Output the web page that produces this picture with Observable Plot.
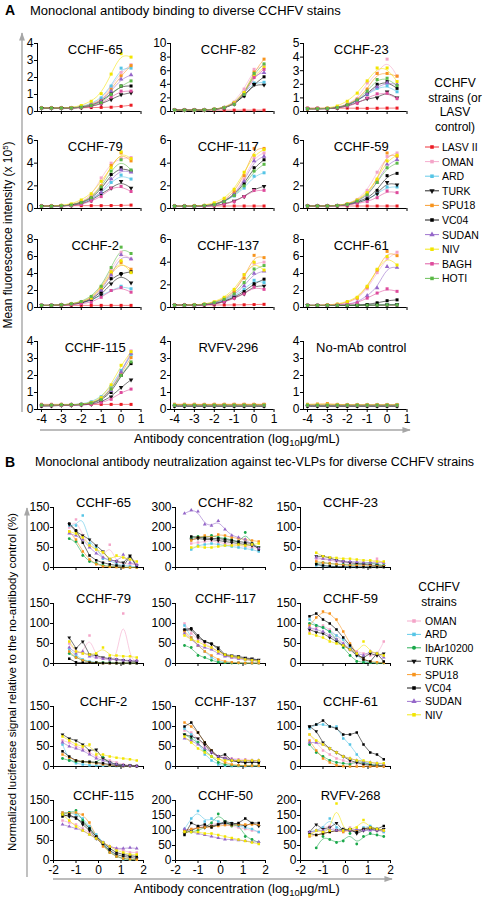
<!DOCTYPE html>
<html>
<head>
<meta charset="utf-8">
<script src="https://cdn.jsdelivr.net/npm/d3@7"></script>
<script src="https://cdn.jsdelivr.net/npm/@observablehq/plot@0.6"></script>
<style>
  body { margin: 0; background: #fff; }
  #fig { position: relative; width: 483px; height: 900px; overflow: hidden; background: #fff;
         font-family: Arial, "Liberation Sans", Helvetica, sans-serif; color: #000; }
  .t { position: absolute; white-space: nowrap; line-height: 1; }
  .c { transform: translate(-50%, -50%); }
  .l { transform: translate(0, -50%); }
  .r90 { transform: translate(-50%, -50%) rotate(-90deg); }
</style>
</head>
<body>
<div id="fig"></div>
<script>
// ---------- Panel A: binding (log10 µg/mL, 10 half-log steps) ----------
const doseA = [-4, -3.5, -3, -2.5, -2, -1.5, -1, -0.5, 0, 0.5];
const strainsA = ["LASV II", "OMAN", "ARD", "TURK", "SPU18", "VC04", "SUDAN", "NIV", "BAGH", "HOTI"];
const titlesA = ["CCHF-65", "CCHF-82", "CCHF-23", "CCHF-79", "CCHF-117", "CCHF-59",
                 "CCHF-2", "CCHF-137", "CCHF-61", "CCHF-115", "RVFV-296", "No-mAb control"];
const yMaxA = [4, 10, 5, 6, 6, 6, 8, 6, 8, 4, 4, 4];
const yStepA = [1, 2, 1, 2, 2, 2, 2, 2, 2, 1, 1, 1];

// rows follow strainsA order; MFI x 10^5
const a65 = [
  [0.22,0.22,0.21,0.21,0.22,0.23,0.24,0.25,0.30,0.37],
  [0.20,0.20,0.20,0.22,0.28,0.42,0.72,1.45,2.30,2.75],
  [0.20,0.20,0.20,0.22,0.30,0.45,0.80,1.50,2.55,2.55],
  [0.18,0.18,0.19,0.20,0.23,0.30,0.45,0.70,1.00,1.10],
  [0.20,0.20,0.20,0.21,0.27,0.40,0.65,1.30,2.10,2.70],
  [0.20,0.20,0.20,0.20,0.25,0.35,0.60,1.05,1.50,1.50],
  [0.20,0.20,0.20,0.20,0.26,0.38,0.62,1.20,1.90,2.15],
  [0.21,0.21,0.21,0.23,0.35,0.60,1.05,2.20,3.40,3.20],
  [0.20,0.20,0.20,0.20,0.23,0.30,0.45,0.85,1.20,1.20],
  [0.20,0.20,0.20,0.20,0.25,0.35,0.52,1.00,1.50,1.80]];
const a82 = [
  [0.20,0.20,0.20,0.20,0.20,0.20,0.20,0.20,0.20,0.20],
  [0.20,0.20,0.20,0.22,0.35,0.60,1.40,3.30,6.20,6.80],
  [0.20,0.20,0.20,0.22,0.33,0.55,1.20,2.80,4.20,4.30],
  [0.20,0.20,0.20,0.20,0.30,0.50,1.10,2.30,4.00,3.90],
  [0.20,0.20,0.20,0.22,0.33,0.55,1.20,2.70,5.80,7.70],
  [0.20,0.20,0.20,0.20,0.30,0.50,1.10,2.30,4.00,5.10],
  [0.20,0.20,0.20,0.22,0.32,0.55,1.20,2.60,5.40,5.70],
  [0.20,0.20,0.20,0.22,0.34,0.60,1.30,2.80,5.30,6.50],
  [0.20,0.20,0.20,0.20,0.30,0.50,1.10,2.50,5.00,6.20],
  [0.20,0.20,0.20,0.22,0.32,0.55,1.05,2.50,5.60,7.00]];
const a23 = [
  [0.25,0.25,0.24,0.24,0.25,0.24,0.23,0.24,0.25,0.25],
  [0.20,0.20,0.22,0.30,0.55,0.95,2.10,2.80,3.85,2.60],
  [0.20,0.20,0.21,0.28,0.45,0.80,1.25,1.70,1.90,1.45],
  [0.20,0.20,0.20,0.25,0.40,0.65,0.95,1.00,1.45,1.00],
  [0.20,0.20,0.21,0.30,0.50,0.90,1.65,2.80,2.80,2.60],
  [0.20,0.20,0.20,0.27,0.45,0.80,1.30,2.00,2.20,1.70],
  [0.20,0.20,0.21,0.28,0.45,0.80,1.30,1.80,2.10,2.00],
  [0.20,0.22,0.25,0.40,0.75,1.35,2.25,3.20,3.20,2.20],
  [0.20,0.20,0.20,0.25,0.38,0.60,1.00,1.30,1.35,0.95],
  [0.20,0.20,0.21,0.28,0.48,0.85,1.50,2.35,2.45,1.90]];
const a79 = [
  [0.25,0.25,0.25,0.25,0.25,0.25,0.25,0.26,0.27,0.30],
  [0.20,0.22,0.25,0.35,0.60,1.10,2.70,4.00,4.40,4.50],
  [0.20,0.20,0.22,0.30,0.45,0.85,1.30,2.30,2.95,2.60],
  [0.20,0.20,0.22,0.28,0.40,0.70,1.30,1.80,2.40,1.80],
  [0.20,0.20,0.24,0.32,0.55,1.00,2.00,3.80,4.90,4.20],
  [0.20,0.20,0.22,0.30,0.50,0.90,1.70,3.00,3.60,3.30],
  [0.20,0.20,0.22,0.30,0.48,0.85,1.40,2.60,3.40,3.20],
  [0.20,0.22,0.28,0.40,0.75,1.30,2.40,3.60,5.00,4.40],
  [0.20,0.20,0.20,0.25,0.35,0.65,1.05,1.80,1.95,1.50],
  [0.20,0.20,0.23,0.30,0.52,0.95,1.90,3.30,4.30,3.40]];
const a117 = [
  [0.22,0.22,0.22,0.22,0.22,0.22,0.22,0.22,0.22,0.22],
  [0.20,0.20,0.20,0.25,0.35,0.65,1.25,2.60,4.50,4.90],
  [0.20,0.20,0.20,0.23,0.32,0.60,1.10,1.80,2.85,3.15],
  [0.18,0.18,0.18,0.20,0.25,0.40,0.65,1.05,1.70,1.95],
  [0.20,0.20,0.20,0.25,0.38,0.70,1.50,2.90,5.30,5.30],
  [0.20,0.20,0.20,0.24,0.34,0.62,1.20,2.20,3.60,4.30],
  [0.20,0.20,0.20,0.24,0.34,0.64,1.25,2.40,4.20,4.60],
  [0.20,0.20,0.22,0.28,0.50,0.90,1.70,3.20,4.70,5.20],
  [0.18,0.18,0.18,0.20,0.25,0.38,0.60,1.05,1.60,1.60],
  [0.20,0.20,0.20,0.24,0.33,0.60,1.15,2.00,3.30,3.90]];
const a59 = [
  [0.22,0.22,0.22,0.22,0.22,0.22,0.22,0.22,0.22,0.22],
  [0.22,0.22,0.23,0.27,0.40,0.80,1.60,3.20,4.60,4.90],
  [0.22,0.22,0.22,0.24,0.32,0.55,0.80,1.30,1.90,1.90],
  [0.22,0.22,0.22,0.24,0.30,0.50,0.75,1.30,2.30,2.10],
  [0.22,0.22,0.23,0.26,0.38,0.70,1.30,2.50,4.90,4.60],
  [0.22,0.22,0.22,0.25,0.34,0.60,0.90,1.60,2.90,3.10],
  [0.22,0.22,0.22,0.25,0.36,0.65,1.10,2.30,3.90,4.30],
  [0.22,0.22,0.23,0.27,0.40,0.75,1.40,2.60,4.20,4.70],
  [0.22,0.22,0.22,0.23,0.30,0.45,0.60,0.95,1.55,1.40],
  [0.22,0.22,0.22,0.25,0.36,0.65,1.20,2.30,3.60,4.00]];
const a2 = [
  [0.25,0.25,0.25,0.25,0.25,0.25,0.25,0.25,0.25,0.25],
  [0.25,0.25,0.30,0.40,0.65,1.10,2.40,4.40,6.50,5.70],
  [0.25,0.25,0.28,0.35,0.50,0.90,1.40,2.00,2.50,2.20],
  [0.25,0.25,0.28,0.35,0.50,0.85,1.50,2.80,3.90,2.90],
  [0.25,0.25,0.30,0.40,0.60,1.05,2.20,4.00,5.30,4.50],
  [0.25,0.25,0.30,0.38,0.55,0.95,1.80,3.40,4.00,4.20],
  [0.25,0.25,0.30,0.40,0.60,1.00,2.00,3.80,6.20,5.70],
  [0.25,0.25,0.30,0.42,0.65,1.10,2.40,4.20,5.50,4.10],
  [0.25,0.25,0.27,0.32,0.45,0.60,1.20,2.00,2.35,1.80],
  [0.25,0.25,0.30,0.42,0.70,1.30,2.50,4.70,7.10,6.35]];
const a137 = [
  [0.22,0.22,0.22,0.22,0.22,0.22,0.23,0.24,0.26,0.28],
  [0.20,0.20,0.22,0.28,0.42,0.75,1.30,2.90,3.90,4.00],
  [0.20,0.20,0.21,0.25,0.35,0.60,1.00,1.60,2.40,2.20],
  [0.20,0.20,0.20,0.23,0.30,0.50,0.85,1.20,1.90,1.90],
  [0.20,0.20,0.22,0.28,0.45,0.80,1.40,2.60,4.60,4.40],
  [0.20,0.20,0.20,0.24,0.32,0.55,0.90,1.40,2.10,2.50],
  [0.20,0.20,0.21,0.26,0.38,0.65,1.10,1.90,3.00,3.20],
  [0.20,0.20,0.23,0.30,0.50,0.90,1.60,2.90,4.00,3.30],
  [0.20,0.20,0.20,0.23,0.30,0.48,0.80,1.20,1.80,1.60],
  [0.20,0.20,0.22,0.27,0.42,0.72,1.20,2.20,3.40,3.70]];
const a61 = [
  [0.25,0.25,0.25,0.25,0.25,0.25,0.25,0.25,0.25,0.25],
  [0.25,0.25,0.28,0.35,0.55,1.00,2.20,4.10,5.80,6.50],
  [0.25,0.25,0.25,0.25,0.25,0.26,0.27,0.28,0.30,0.30],
  [0.25,0.25,0.25,0.25,0.26,0.27,0.28,0.30,0.32,0.35],
  [0.25,0.25,0.28,0.37,0.60,1.10,2.40,4.40,6.60,6.10],
  [0.25,0.25,0.25,0.25,0.26,0.28,0.35,0.55,0.80,0.90],
  [0.25,0.25,0.26,0.30,0.40,0.60,1.40,2.30,4.80,4.70],
  [0.25,0.25,0.30,0.40,0.70,1.20,2.50,4.50,6.00,5.00],
  [0.25,0.25,0.26,0.30,0.35,0.55,1.10,1.70,2.20,1.90],
  [0.25,0.25,0.25,0.25,0.25,0.26,0.27,0.28,0.30,0.30]];
const a115 = [
  [0.30,0.30,0.30,0.30,0.30,0.30,0.30,0.30,0.30,0.30],
  [0.25,0.25,0.27,0.28,0.30,0.38,0.60,1.30,2.20,3.45],
  [0.25,0.25,0.27,0.28,0.32,0.45,0.75,1.35,2.30,3.20],
  [0.22,0.22,0.24,0.25,0.27,0.30,0.45,0.75,1.30,1.75],
  [0.25,0.25,0.30,0.28,0.30,0.38,0.60,1.20,2.10,3.05],
  [0.20,0.22,0.24,0.25,0.28,0.35,0.55,1.00,2.00,2.70],
  [0.25,0.25,0.27,0.28,0.30,0.38,0.58,1.10,2.20,3.30],
  [0.25,0.25,0.27,0.28,0.30,0.40,0.70,1.45,2.60,3.40],
  [0.22,0.22,0.24,0.25,0.27,0.30,0.40,0.60,1.00,1.20],
  [0.25,0.25,0.27,0.28,0.30,0.38,0.58,1.20,2.00,2.80]];
const a296 = [
  [0.30,0.30,0.30,0.30,0.30,0.30,0.30,0.30,0.30,0.30],
  [0.27,0.27,0.27,0.27,0.27,0.27,0.27,0.27,0.27,0.27],
  [0.25,0.25,0.25,0.25,0.25,0.25,0.25,0.25,0.25,0.25],
  [0.20,0.20,0.20,0.20,0.20,0.20,0.20,0.20,0.20,0.20],
  [0.30,0.30,0.30,0.29,0.30,0.30,0.30,0.30,0.30,0.30],
  [0.20,0.20,0.20,0.20,0.20,0.20,0.20,0.20,0.20,0.20],
  [0.25,0.25,0.25,0.25,0.25,0.25,0.25,0.25,0.25,0.25],
  [0.28,0.28,0.28,0.28,0.28,0.28,0.28,0.28,0.28,0.28],
  [0.25,0.25,0.25,0.25,0.25,0.25,0.25,0.25,0.25,0.25],
  [0.25,0.25,0.25,0.25,0.25,0.25,0.25,0.25,0.25,0.25]];
const aNoMab = [
  [0.25,0.25,0.25,0.25,0.25,0.25,0.25,0.25,0.25,0.25],
  [0.26,0.26,0.26,0.26,0.26,0.26,0.26,0.26,0.26,0.26],
  [0.25,0.25,0.25,0.25,0.25,0.25,0.25,0.25,0.25,0.25],
  [0.20,0.20,0.20,0.20,0.20,0.20,0.20,0.20,0.20,0.20],
  [0.30,0.32,0.35,0.30,0.28,0.27,0.27,0.27,0.27,0.27],
  [0.20,0.20,0.20,0.20,0.20,0.20,0.20,0.20,0.20,0.20],
  [0.25,0.25,0.25,0.25,0.25,0.25,0.25,0.25,0.25,0.25],
  [0.30,0.30,0.30,0.29,0.28,0.28,0.28,0.28,0.28,0.28],
  [0.25,0.25,0.25,0.25,0.25,0.25,0.25,0.25,0.25,0.25],
  [0.25,0.25,0.25,0.25,0.25,0.25,0.25,0.25,0.25,0.25]];
const seriesA = [a65, a82, a23, a79, a117, a59, a2, a137, a61, a115, a296, aNoMab];

// ---------- Panel B: neutralization (% of no-antibody control, 2-fold steps) ----------
const doseB = [-1.6, -1.3, -1.0, -0.7, -0.4, -0.1, 0.2, 0.5, 0.8, 1.1, 1.4, 1.7];
const strainsB = ["OMAN", "ARD", "IbAr10200", "TURK", "SPU18", "VC04", "SUDAN", "NIV"];
const titlesB = ["CCHF-65", "CCHF-82", "CCHF-23", "CCHF-79", "CCHF-117", "CCHF-59",
                 "CCHF-2", "CCHF-137", "CCHF-61", "CCHF-115", "CCHF-50", "RVFV-268"];
const yMaxB = [150, 300, 150, 150, 150, 150, 150, 150, 150, 150, 200, 200];
const yStepB = [50, 100, 50, 50, 50, 50, 50, 50, 50, 50, 50, 50];

// rows follow strainsB order
const b65 = [
  [null,100,120,80,55,45,25,57,12,10,8,8],
  [null,105,105,130,60,50,22,18,8,5,3,2],
  [null,72,65,30,15,10,5,3,2,1,0,0],
  [null,108,90,80,70,55,40,20,15,12,30,5],
  [null,90,70,40,20,8,3,2,1,0,0,0],
  [null,110,93,62,30,18,12,8,5,3,28,2],
  [null,85,80,70,50,35,25,18,15,32,12,6],
  [null,90,85,75,55,45,38,20,30,25,20,15]];
const b82 = [
  [null,120,125,130,135,125,120,115,110,105,100,95],
  [null,90,110,115,120,115,110,105,100,95,90,80],
  [null,150,155,150,160,150,145,140,120,175,120,100],
  [null,140,145,140,140,135,130,125,120,115,110,100],
  [null,135,150,160,150,165,160,150,145,140,135,130],
  [null,155,150,148,145,145,140,135,130,125,120,90],
  [270,287,280,216,209,233,190,160,150,140,115,95],
  [null,100,105,100,100,105,110,110,115,110,115,120]];
const b23 = [
  [null,20,22,18,15,12,10,8,8,8,22,10],
  [null,5,4,3,3,2,2,2,2,2,2,2],
  [null,10,12,10,8,8,6,8,10,12,8,5],
  [null,28,28,24,18,15,12,10,8,6,5,3],
  [null,15,12,10,8,6,5,5,4,4,3,3],
  [null,8,5,3,2,2,1,1,1,1,1,1],
  [null,25,22,20,18,15,15,14,13,12,12,12],
  [null,37,28,25,24,22,22,20,18,18,15,15]];
const b79 = [
  [null,50,30,25,70,15,12,10,10,125,8,8],
  [null,35,20,10,5,3,2,2,1,1,1,1],
  [null,25,15,8,3,2,2,2,1,1,1,1],
  [null,65,38,55,22,20,15,12,10,8,6,5],
  [null,30,15,8,3,2,1,1,1,1,1,1],
  [null,12,3,2,2,2,1,1,1,1,1,1],
  [null,40,25,30,18,15,12,10,10,8,8,7],
  [null,55,30,25,22,25,40,20,20,18,18,15]];
const b117 = [
  [100,75,60,50,40,30,20,15,12,10,8,6],
  [95,65,45,30,15,5,3,2,2,1,1,1],
  [45,40,20,15,8,3,2,1,1,1,1,1],
  [82,85,65,55,48,40,22,20,18,14,12,9],
  [80,65,45,30,20,10,5,3,2,1,1,1],
  [85,88,70,55,50,35,20,18,15,12,10,8],
  [75,60,45,40,35,25,18,15,12,10,8,6],
  [70,60,55,45,40,30,22,18,15,10,8,6]];
const b59 = [
  [80,90,95,85,70,50,35,30,25,20,20,55],
  [110,95,90,80,70,60,40,20,5,2,2,2],
  [100,95,90,80,60,40,20,5,3,2,1,1],
  [85,78,75,65,55,45,35,20,15,25,20,25],
  [95,115,130,125,110,80,50,25,10,5,3,2],
  [118,125,110,100,85,65,45,25,10,5,25,5],
  [90,85,80,70,60,50,35,25,20,30,25,15],
  [75,70,65,55,50,45,35,25,55,30,25,20]];
const b2 = [
  [65,60,50,45,35,25,20,15,10,5,3,2],
  [55,15,8,5,3,3,2,2,1,1,1,1],
  [20,15,12,12,10,10,23,10,5,3,2,1],
  [80,70,65,55,40,42,20,10,5,3,2,1],
  [30,22,15,12,10,8,5,3,2,1,1,1],
  [38,25,15,12,12,10,8,5,3,2,2,1],
  [60,50,45,40,30,20,15,10,5,3,2,1],
  [75,65,55,50,55,30,30,25,22,20,18,15]];
const b137 = [
  [90,85,70,50,35,25,22,20,18,18,15,15],
  [95,80,60,30,15,5,2,1,1,1,1,1],
  [80,70,60,40,25,10,5,3,2,2,2,2],
  [80,75,70,55,35,25,20,15,12,10,10,10],
  [110,100,85,60,40,20,10,5,3,2,2,2],
  [100,110,85,60,40,25,30,15,12,10,12,10],
  [70,65,55,45,35,25,20,18,15,15,15,15],
  [75,60,45,35,25,18,15,15,15,15,15,15]];
const b61 = [
  [80,60,40,30,20,15,10,8,5,5,3,2],
  [95,105,105,100,100,70,55,30,10,5,3,2],
  [55,35,25,15,10,8,5,12,10,5,3,2],
  [100,88,60,45,35,25,15,10,5,3,2,1],
  [65,40,20,10,3,1,0,0,0,0,0,0],
  [100,105,115,100,95,80,80,85,55,35,30,18],
  [60,60,55,45,35,25,20,15,12,10,8,6],
  [80,65,55,45,35,25,20,15,15,10,8,8]];
const b115 = [
  [100,95,90,80,70,55,45,35,30,25,20,20],
  [120,120,115,105,85,65,45,25,10,3,2,2],
  [115,120,125,100,80,60,40,20,10,5,3,2],
  [115,110,108,90,75,55,40,25,15,10,8,5],
  [120,118,120,115,95,60,35,20,10,5,3,2],
  [110,115,105,95,80,60,45,30,20,15,12,10],
  [90,85,80,75,65,55,45,35,30,30,32,30],
  [115,100,85,75,65,55,45,35,25,20,15,15]];
const b50 = [
  [100,105,110,115,120,125,120,115,110,105,100,95],
  [105,140,165,130,140,130,120,125,115,110,105,95],
  [100,95,100,110,125,155,130,115,120,80,70,60],
  [90,100,110,110,115,120,130,125,120,115,125,115],
  [100,105,108,110,112,115,118,118,120,120,120,120],
  [85,125,115,120,110,120,125,120,125,140,125,125],
  [105,95,90,85,80,75,70,70,68,65,62,62],
  [95,95,95,90,90,85,80,75,70,65,60,55]];
const b268 = [
  [90,100,110,115,100,95,110,100,105,110,100,95],
  [95,100,110,140,110,100,105,95,110,115,105,95],
  [null,42,80,70,60,65,90,55,80,90,85,80],
  [95,120,105,110,125,100,105,90,100,105,100,105],
  [80,85,90,95,100,95,100,100,105,110,105,100],
  [90,85,90,95,100,105,100,95,105,110,105,115],
  [95,100,100,105,100,100,100,105,100,100,100,100],
  [85,100,95,100,190,100,105,110,135,110,105,100]];
const seriesB = [b65, b82, b23, b79, b117, b59, b2, b137, b61, b115, b50, b268];

// ---------- styling ----------
const FONT = "Arial, 'Liberation Sans', Helvetica, sans-serif";
const triangleDown = {
  draw(context, size) {
    const y = -Math.sqrt(size / (Math.sqrt(3) * 3));
    context.moveTo(0, -y * 2);
    context.lineTo(-Math.sqrt(3) * y, y);
    context.lineTo(Math.sqrt(3) * y, y);
    context.closePath();
  }
};
const sq = d3.symbolSquare, tri = d3.symbolTriangle, circ = d3.symbolCircle;
const paletteA = ["#ec1c24", "#f4a4c8", "#56c5e6", "#111111", "#f7941d", "#000000",
                  "#9567c9", "#f2e500", "#de4b9c", "#5bb947"];
const shapesA = [sq, sq, sq, triangleDown, sq, sq, tri, sq, sq, sq];
const paletteB = ["#f4a4c8", "#56c5e6", "#1aa84a", "#111111", "#f7941d", "#000000", "#9567c9", "#f2e500"];
const shapesB = [sq, sq, circ, triangleDown, sq, sq, tri, sq];

const fig = document.getElementById("fig");

function addText(html, x, y, cls, size, extra = "") {
  const d = document.createElement("div");
  d.className = "t " + cls;
  d.style.left = x + "px";
  d.style.top = y + "px";
  d.style.fontSize = size + "px";
  if (extra) d.style.cssText += extra;
  d.innerHTML = html;
  fig.appendChild(d);
  return d;
}

function drawPanel(cfg) {
  const {ax, ay, aw, ah, xDomain, xTicks, yMax, yStep, rows, xs, strains, colors, shapes,
         showX, title, tdx, tdy, curves, dotR} = cfg;
  const mL = 36, mR = 10, mT = 24, mB = 24;
  const data = [];
  rows.forEach((vals, s) => vals.forEach((v, i) => {
    if (v !== null) data.push({x: xs[i], y: v, k: s});
  }));
  const marks = [];
  strains.forEach((name, s) => {
    marks.push(Plot.line(data.filter(p => p.k === s),
      {x: "x", y: "y", stroke: colors[s], strokeWidth: 0.75, strokeOpacity: 0.75, curve: curves[s]}));
  });
  strains.forEach((name, s) => {
    marks.push(Plot.dot(data.filter(p => p.k === s),
      {x: "x", y: "y", fill: colors[s], symbol: shapes[s], r: dotR}));
  });
  const yTicks = d3.range(0, yMax + yStep / 2, yStep);
  const plot = Plot.plot({
    width: aw + mL + mR, height: ah + mT + mB,
    marginLeft: mL, marginRight: mR, marginTop: mT, marginBottom: mB,
    style: {fontFamily: FONT, fontSize: "12px", color: "#000", background: "none", overflow: "visible"},
    x: {domain: xDomain},
    y: {domain: [0, yMax]},
    marks: [
      Plot.axisY(yTicks, {anchor: "left", tickSize: 3, tickPadding: 1, label: null,
                          tickFormat: d => String(d), fontSize: 12}),
      Plot.axisX(xTicks, {anchor: "bottom", tickSize: 3, tickPadding: 2, label: null,
                          tickFormat: showX ? (d => String(d)) : (() => ""), fontSize: 12}),
      Plot.ruleX([xDomain[0]], {y1: 0, y2: yMax, stroke: "#000"}),
      Plot.ruleY([0], {x1: xDomain[0], x2: xDomain[1], stroke: "#000"}),
      ...marks,
      Plot.text([title], {text: d => d, frameAnchor: "top", dx: tdx, dy: tdy,
                          fontSize: 13, fontWeight: "normal", fill: "#000"})
    ]
  });
  plot.style.position = "absolute";
  plot.style.left = (ax - mL) + "px";
  plot.style.top = (ay - mT) + "px";
  fig.appendChild(plot);
}

// ---------- panel A grid ----------
const colA = [36.7, 170, 303];
const rowA = [111, 208, 307, 409];
seriesA.forEach((rows, p) => {
  const c = p % 3, r = Math.floor(p / 3);
  drawPanel({
    ax: colA[c], ay: rowA[r] - 68, aw: 103.5, ah: 68,
    xDomain: [-4.2, 1], xTicks: [-4, -3, -2, -1, 0, 1],
    yMax: yMaxA[p], yStep: yStepA[p], rows, xs: doseA,
    strains: strainsA, colors: paletteA, shapes: shapesA,
    curves: strainsA.map(() => "basis"),
    showX: r === 3, title: titlesA[p], tdx: 6, tdy: 1, dotR: 1.7
  });
});

// ---------- panel B grid ----------
const colB = [53, 175, 300];
const rowB = [567, 663, 766, 860];
seriesB.forEach((rows, p) => {
  const c = p % 3, r = Math.floor(p / 3);
  drawPanel({
    ax: colB[c], ay: rowB[r] - 60, aw: 90, ah: 60,
    xDomain: [-2, 2], xTicks: [-2, -1, 0, 1, 2],
    yMax: yMaxB[p], yStep: yStepB[p], rows, xs: doseB,
    strains: strainsB, colors: paletteB, shapes: shapesB,
    curves: strainsB.map(n => (n === "TURK" || n === "VC04") ? "linear" : "basis"),
    showX: r === 3, title: titlesB[p], tdx: 5, tdy: -10, dotR: 1.4
  });
});

// ---------- decorations: axis arrows ----------
const deco = d3.select(fig).append("svg")
  .attr("width", 483).attr("height", 900)
  .style("position", "absolute").style("left", 0).style("top", 0).style("pointer-events", "none");
const defs = deco.append("defs");
defs.append("marker").attr("id", "ah").attr("viewBox", "0 0 10 10").attr("refX", 9).attr("refY", 5)
  .attr("markerWidth", 6).attr("markerHeight", 6).attr("orient", "auto")
  .append("path").attr("d", "M0,1.5L10,5L0,8.5Z").attr("fill", "#a6a6a6");
[[22, 412, 22, 33], [40, 430, 410, 430], [27, 877, 27, 508], [53, 879, 392, 879]].forEach(([x1, y1, x2, y2]) =>
  deco.append("line").attr("x1", x1).attr("y1", y1).attr("x2", x2).attr("y2", y2)
    .attr("stroke", "#a6a6a6").attr("stroke-width", 1.4).attr("marker-end", "url(#ah)"));

// ---------- headings & axis titles ----------
addText("A", 10, 10, "c", 14, "font-weight:bold");
addText("Monoclonal antibody binding to diverse CCHFV stains", 30, 10, "l", 13);
addText("B", 10, 462, "c", 14, "font-weight:bold");
addText("Monoclonal antibody neutralization against tec-VLPs for diverse CCHFV strains", 35, 462, "l", 12.5);
const xTitle = 'Antibody concentration (log<sub style="font-size:9.5px;vertical-align:-3px">10</sub>µg/mL)';
addText(xTitle, 237, 440, "c", 12.8);
addText(xTitle, 237, 890, "c", 12.8);
addText("Mean fluorescence intensity (x 10<sup style=\"font-size:8px;vertical-align:4px\">5</sup>)", 8, 235, "r90", 12);
addText("Normalized luciferase signal relative to the no-antibody control (%)", 13, 682, "r90", 11.5);

// ---------- legends ----------
function legend(names, colors, shapes, x0, lineX1, lineX2, textX, y0, dy, header, headerX, headerY0, headerDy) {
  header.forEach((h, i) => addText(h, headerX, headerY0 + i * headerDy, "c", 12));
  const svg = d3.select(fig).append("svg").attr("width", 483).attr("height", 900)
    .style("position", "absolute").style("left", 0).style("top", 0);
  names.forEach((n, i) => {
    const y = y0 + i * dy;
    svg.append("line").attr("x1", lineX1).attr("x2", lineX2).attr("y1", y).attr("y2", y)
      .attr("stroke", colors[i]).attr("stroke-width", 0.9);
    svg.append("path").attr("transform", `translate(${x0},${y})`)
      .attr("d", d3.symbol(shapes[i], Math.PI * 2 * 2)()).attr("fill", colors[i]);
    addText(n, textX, y, "l", 10.5);
  });
}
legend(strainsA, paletteA, shapesA, 432, 425, 439, 442, 147, 14.6,
       ["CCHFV", "strains (or", "LASV", "control)"], 455, 83, 14.6);
legend(strainsB, paletteB, shapesB, 414, 407, 421, 425, 621, 13.4,
       ["CCHFV", "strains"], 439, 587, 15);
</script>
</body>
</html>
